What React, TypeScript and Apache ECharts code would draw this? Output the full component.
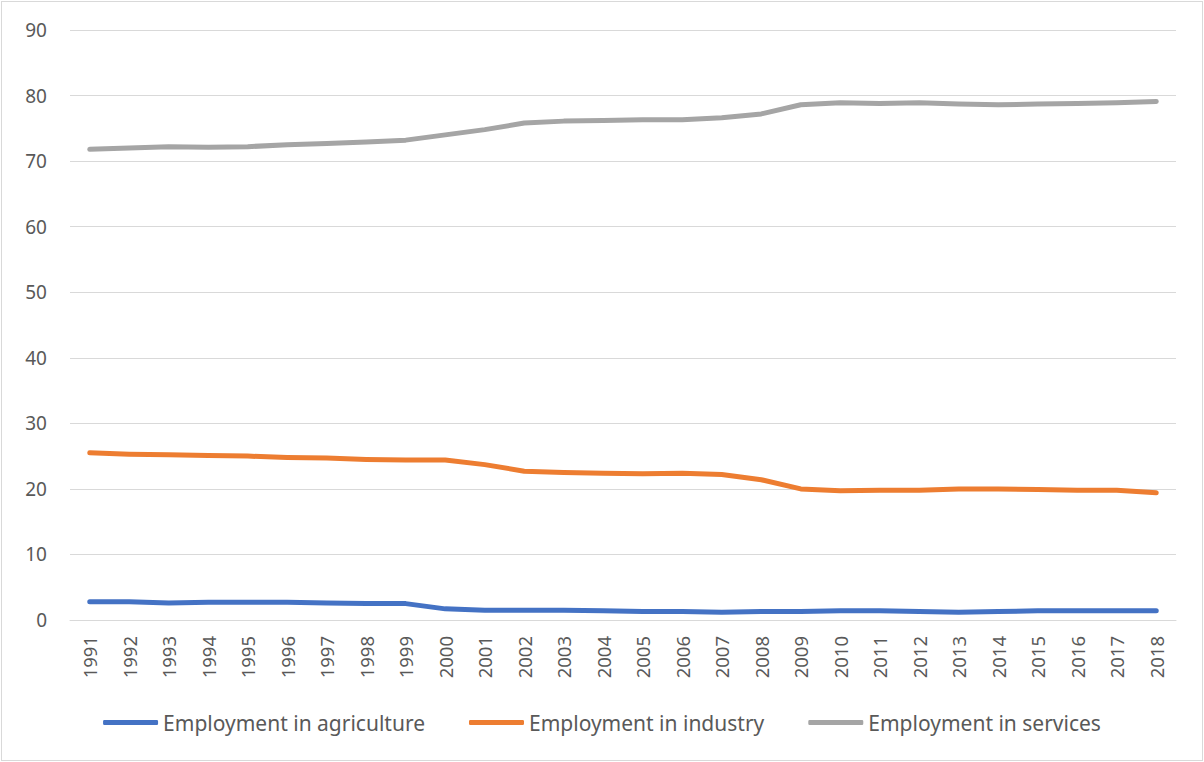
import React, { useEffect, useRef } from "react";
import * as echarts from "echarts";

const years = ["1991","1992","1993","1994","1995","1996","1997","1998","1999","2000","2001","2002","2003","2004","2005","2006","2007","2008","2009","2010","2011","2012","2013","2014","2015","2016","2017","2018"];
const agriculture = [2.8, 2.8, 2.6, 2.7, 2.7, 2.7, 2.6, 2.5, 2.5, 1.7, 1.5, 1.5, 1.5, 1.4, 1.3, 1.3, 1.2, 1.3, 1.3, 1.4, 1.4, 1.3, 1.2, 1.3, 1.4, 1.4, 1.4, 1.4];
const industry = [25.5, 25.3, 25.2, 25.1, 25.0, 24.8, 24.7, 24.5, 24.4, 24.4, 23.7, 22.7, 22.5, 22.4, 22.3, 22.4, 22.2, 21.4, 20.0, 19.7, 19.8, 19.8, 20.0, 20.0, 19.9, 19.8, 19.8, 19.4];
const services = [71.8, 72.0, 72.2, 72.1, 72.2, 72.5, 72.7, 72.9, 73.2, 74.0, 74.8, 75.8, 76.1, 76.2, 76.3, 76.3, 76.6, 77.2, 78.6, 78.9, 78.8, 78.9, 78.7, 78.6, 78.7, 78.8, 78.9, 79.1];
const seriesNames = ["Employment in agriculture", "Employment in industry", "Employment in services"];
const colors = ["#4472C4", "#ED7D31", "#A5A5A5"];

export default function App() {
  const ref = useRef<HTMLDivElement>(null);
  useEffect(() => {
    if (!ref.current) return;
    const chart = echarts.init(ref.current, null, { renderer: "svg" });
    const font = "'Noto Sans', 'Open Sans', sans-serif";
    const datas = [agriculture, industry, services];
    chart.setOption({
      animation: false,
      backgroundColor: "#fff",
      color: colors,
      grid: { left: 68, right: 26, top: 28, bottom: 140, containLabel: false },
      legend: {
        top: 705,
        left: "center",
        icon: "roundRect",
        itemWidth: 55,
        itemHeight: 5,
        itemGap: 44,
        textStyle: { color: "#595959", fontSize: 21, fontFamily: font },
        data: seriesNames,
      },
      xAxis: {
        type: "category",
        data: years,
        boundaryGap: true,
        axisLine: { show: true, lineStyle: { color: "#D9D9D9", width: 1 } },
        axisTick: { show: false },
        axisLabel: { rotate: 90, color: "#595959", fontSize: 18.5, fontFamily: font, margin: 16 },
      },
      yAxis: {
        type: "value",
        min: 0,
        max: 90,
        interval: 10,
        axisLine: { show: false },
        axisTick: { show: false },
        splitLine: { lineStyle: { color: "#D9D9D9", width: 1 } },
        axisLabel: { color: "#595959", fontSize: 19, fontFamily: font, margin: 23 },
      },
      series: seriesNames.map((n, i) => ({
        name: n,
        type: "line",
        data: datas[i],
        showSymbol: false,
        symbol: "none",
        lineStyle: { width: 5, color: colors[i], cap: "round", join: "round" },
        itemStyle: { color: colors[i] },
      })),
    });
    return () => chart.dispose();
  }, []);
  return (
    <div style={{ position: "fixed", left: 0, top: 0, width: 1204, height: 762, background: "#fff" }}>
      <div
        ref={ref}
        style={{ position: "absolute", left: 1, top: 1, width: 1200, height: 758, border: "1px solid #D9D9D9" }}
      />
    </div>
  );
}
